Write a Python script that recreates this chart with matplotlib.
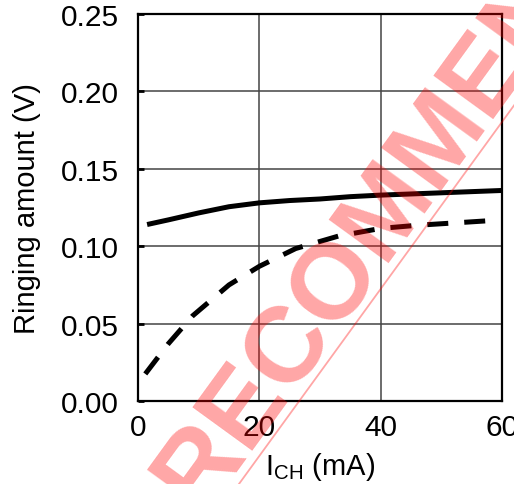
import numpy as np
import matplotlib
matplotlib.use("Agg")
import matplotlib.pyplot as plt
from matplotlib.lines import Line2D

# Données
courant_solide = [1.5, 5, 10, 15, 20, 25, 30, 35, 40, 50, 60]
ringing_solide = [0.114, 0.117, 0.1215, 0.1255, 0.128, 0.1295, 0.1305, 0.132, 0.133, 0.1345, 0.136]

courant_tirets = [1.2, 5, 9, 15, 20, 26, 33, 40, 46, 54, 60]
ringing_tirets = [0.0175, 0.037, 0.055, 0.075, 0.087, 0.0985, 0.1065, 0.1115, 0.1135, 0.1155, 0.117]

x_ticks = [0, 20, 40, 60]
y_ticks = [0.00, 0.05, 0.10, 0.15, 0.20, 0.25]

plt.rcParams['font.family'] = ['Liberation Sans', 'DejaVu Sans']
plt.rcParams['mathtext.fontset'] = 'custom'
plt.rcParams['mathtext.rm'] = 'Liberation Sans'

W, H = 514, 485
fig = plt.figure(figsize=(W / 100, H / 100), dpi=100)
ax = fig.add_axes([138 / W, 1 - 402 / H, 364 / W, 387 / H])

ax.plot(courant_solide, ringing_solide, color='black', lw=3.6, solid_capstyle='butt', zorder=3)
ax.plot(courant_tirets, ringing_tirets, color='black', lw=3.6, dashes=(4.2, 3.2),
        dash_capstyle='butt', zorder=3)

ax.set_xlim(0, 60)
ax.set_ylim(0, 0.25)
ax.set_xticks(x_ticks)
ax.set_yticks(y_ticks)
ax.set_yticklabels([f"{v:.2f}" for v in y_ticks])
ax.grid(True, color='#444444', lw=1.1)
for s in ax.spines.values():
    s.set_linewidth(1.6)
ax.tick_params(axis='y', direction='in', length=4, width=2, labelsize=21.5, pad=14)
ax.tick_params(axis='x', length=0, labelsize=21.5, pad=9)

ax.set_xlabel(r'I$_{\mathrm{CH}}$ (mA)', fontsize=21, labelpad=6)
ax.set_ylabel('Ringing amount (V)', fontsize=21, labelpad=14)

# Filigrane "NOT RECOMMENDED" (position en pixels, origine en bas à gauche)
angle = 54
taille = 77
em = taille * 100 / 72
u = np.array([np.cos(np.radians(angle)), np.sin(np.radians(angle))])
n = np.array([np.sin(np.radians(angle)), -np.cos(np.radians(angle))])
centre_o = np.array([330.0, H - 280.0])
centre = centre_o + 0.333 * em * u
base = centre + 0.358 * em * n
fig.text(base[0] / W, base[1] / H, 'NOT RECOMMENDED', fontsize=taille, fontweight='bold',
         color='red', alpha=0.35, rotation=angle, rotation_mode='anchor',
         ha='center', va='baseline', zorder=10)

p = base + 0.08 * em * n
a, b = p - 5.3 * em * u, p + 5.3 * em * u
fig.add_artist(Line2D([a[0] / W, b[0] / W], [a[1] / H, b[1] / H], transform=fig.transFigure,
                      color='red', alpha=0.35, lw=1.3, zorder=10))

fig.savefig('out.png', dpi=100)
